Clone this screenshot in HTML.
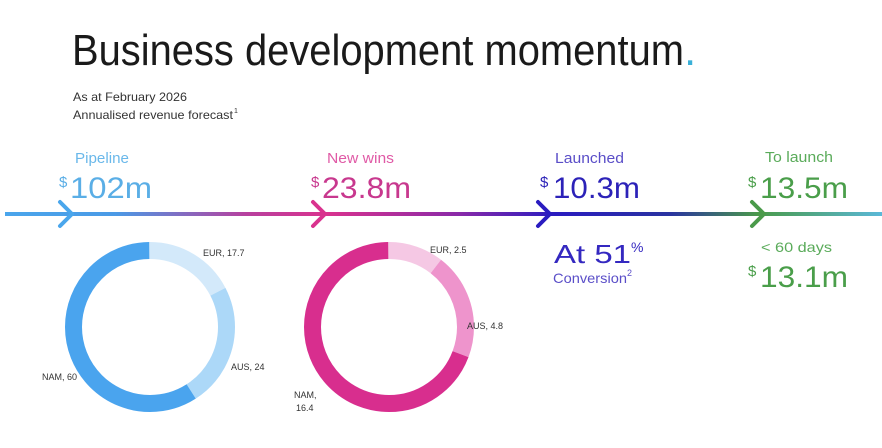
<!DOCTYPE html>
<html><head><meta charset="utf-8"><style>
html,body{margin:0;padding:0;background:#fff;width:882px;height:448px;overflow:hidden}
text{font-family:"Liberation Sans",sans-serif}
</style></head><body>
<svg width="882" height="448" viewBox="0 0 882 448" xmlns="http://www.w3.org/2000/svg">
<defs>
<linearGradient id="g" x1="0" x2="882" y1="0" y2="0" gradientUnits="userSpaceOnUse">
<stop offset="0" stop-color="#4aa6ec"/>
<stop offset="0.13" stop-color="#4a9ae6"/>
<stop offset="0.28" stop-color="#b8409e"/>
<stop offset="0.37" stop-color="#d9328e"/>
<stop offset="0.52" stop-color="#8a2aa8"/>
<stop offset="0.63" stop-color="#2a1cc0"/>
<stop offset="0.76" stop-color="#2a34a0"/>
<stop offset="0.86" stop-color="#4a9a4a"/>
<stop offset="1" stop-color="#5ab8d8"/>
</linearGradient>
</defs>
<text x="72" y="65" font-size="44" fill="#1a1a1a" font-weight="300" textLength="612" lengthAdjust="spacingAndGlyphs">Business development momentum</text>
<text x="684" y="65" font-size="44" fill="#3ab0d8">.</text>
<text x="73" y="101" font-size="12" fill="#333" textLength="114" lengthAdjust="spacingAndGlyphs">As at February 2026</text>
<text x="73" y="119" font-size="12" fill="#333" textLength="160" lengthAdjust="spacingAndGlyphs">Annualised revenue forecast</text>
<text x="234" y="113" font-size="7" fill="#333">1</text>

<rect x="5" y="212" width="877" height="4" fill="url(#g)"/>
<g fill="none" stroke-width="4" stroke-linecap="round" stroke-linejoin="round">
<polyline points="60,202 72,214 60,226" stroke="#4aa6ec"/>
<polyline points="313,202 325,214 313,226" stroke="#d9328e"/>
<polyline points="538,202 550,214 538,226" stroke="#2a1cc0"/>
<polyline points="752,202 764,214 752,226" stroke="#4a9a4a"/>
</g>

<text x="75" y="163" font-size="15" fill="#6ab8ea" textLength="54" lengthAdjust="spacingAndGlyphs">Pipeline</text>
<text x="59" y="187" font-size="15" fill="#5aaee6">$</text>
<text x="70" y="198" font-size="30" fill="#5aaee6" textLength="82" lengthAdjust="spacingAndGlyphs">102m</text>

<text x="327" y="163" font-size="15" fill="#e05aa6" textLength="67" lengthAdjust="spacingAndGlyphs">New wins</text>
<text x="311" y="187" font-size="15" fill="#c8388e">$</text>
<text x="322" y="198" font-size="30" fill="#c8388e" textLength="89" lengthAdjust="spacingAndGlyphs">23.8m</text>

<text x="555" y="163" font-size="15" fill="#5a4ec8" textLength="69" lengthAdjust="spacingAndGlyphs">Launched</text>
<text x="540" y="187" font-size="15" fill="#2c22b8">$</text>
<text x="553" y="198" font-size="30" fill="#2c22b8" textLength="87" lengthAdjust="spacingAndGlyphs">10.3m</text>
<text x="554" y="263" font-size="26" fill="#3428c0" textLength="77" lengthAdjust="spacingAndGlyphs">At 51</text>
<text x="631" y="252" font-size="14" fill="#3428c0">%</text>
<text x="553" y="283" font-size="14" fill="#5a4ec8" textLength="74" lengthAdjust="spacingAndGlyphs">Conversion</text>
<text x="627" y="276" font-size="9" fill="#5a4ec8">2</text>

<text x="765" y="162" font-size="15" fill="#5aab5a" textLength="68" lengthAdjust="spacingAndGlyphs">To launch</text>
<text x="748" y="187" font-size="15" fill="#4a9e4a">$</text>
<text x="760" y="198" font-size="30" fill="#4a9e4a" textLength="88" lengthAdjust="spacingAndGlyphs">13.5m</text>
<text x="761" y="252" font-size="14" fill="#5aab5a" textLength="71" lengthAdjust="spacingAndGlyphs">&lt; 60 days</text>
<text x="748" y="276" font-size="15" fill="#4a9e4a">$</text>
<text x="760" y="287" font-size="30" fill="#4a9e4a" textLength="88" lengthAdjust="spacingAndGlyphs">13.1m</text>

<!-- donut 1 -->
<g transform="rotate(-90 150 327)" fill="none" stroke-width="17">
<circle cx="150" cy="327" r="76.5" pathLength="100" stroke="#d3e9fa" stroke-dasharray="17.4 100"/>
<circle cx="150" cy="327" r="76.5" pathLength="100" stroke="#acd8f8" stroke-dasharray="0 17.4 23.6 100"/>
<circle cx="150" cy="327" r="76.5" pathLength="100" stroke="#4aa4ee" stroke-dasharray="0 41 59 100"/>
</g>
<text x="203" y="256" font-size="9" fill="#333">EUR, 17.7</text>
<text x="231" y="370" font-size="9" fill="#333">AUS, 24</text>
<text x="42" y="380" font-size="9" fill="#333">NAM, 60</text>

<!-- donut 2 -->
<g transform="rotate(-90 389 327)" fill="none" stroke-width="17">
<circle cx="389" cy="327" r="76.5" pathLength="100" stroke="#f5c8e4" stroke-dasharray="10.5 100"/>
<circle cx="389" cy="327" r="76.5" pathLength="100" stroke="#ee94cc" stroke-dasharray="0 10.5 20.3 100"/>
<circle cx="389" cy="327" r="76.5" pathLength="100" stroke="#d82e8e" stroke-dasharray="0 30.8 69.2 100"/>
</g>
<text x="430" y="253" font-size="9" fill="#333">EUR, 2.5</text>
<text x="467" y="329" font-size="9" fill="#333">AUS, 4.8</text>
<text x="294" y="398" font-size="9" fill="#333">NAM,</text>
<text x="296" y="411" font-size="9" fill="#333">16.4</text>
</svg>
</body></html>
